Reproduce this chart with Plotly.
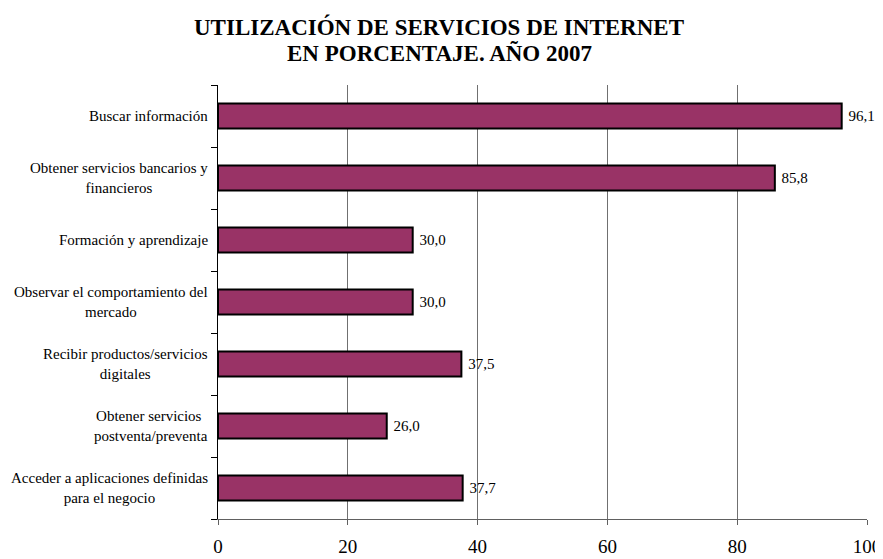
import plotly.graph_objects as go

categories = [
    "Buscar información",
    "Obtener servicios bancarios y<br>financieros",
    "Formación y aprendizaje",
    "Observar el comportamiento del<br>mercado",
    "Recibir productos/servicios<br>digitales",
    "Obtener servicios <br>postventa/preventa",
    "Acceder a aplicaciones definidas<br>para el negocio",
]
values = [96.1, 85.8, 30.0, 30.0, 37.5, 26.0, 37.7]
value_labels = [" " + f"{v:.1f}".replace(".", ",") for v in values]
x_ticks = [0, 20, 40, 60, 80, 100]
title_lines = ["UTILIZACIÓN DE SERVICIOS DE INTERNET", "EN PORCENTAJE. AÑO 2007"]

serif = "Liberation Serif, Times New Roman, serif"
ids = list(range(len(categories)))

# page has an 8px body margin, so the figure is 8px smaller than the window
W, H = 875, 551
ML, MR, MT, MB = 210, 16, 77, 40

fig = go.Figure()
fig.add_trace(go.Bar(
    x=values, y=ids, orientation="h",
    marker=dict(color="#993366", line=dict(color="black", width=2)),
    width=0.4,
    text=value_labels, textposition="outside",
    textfont=dict(family=serif, size=15, color="black"),
    cliponaxis=False,
))

for i, c in enumerate(categories):
    fig.add_annotation(
        x=-0.012, xref="paper", y=i, yref="y",
        text=c, showarrow=False, xanchor="right", yanchor="middle",
        align="center", font=dict(family=serif, size=15, color="black"),
    )

plot_h = H - MT - MB
fig.add_annotation(
    x=(431 - ML) / (W - ML - MR), xref="paper",
    y=(H - MB - 45) / plot_h, yref="paper",
    text=f"<b>{title_lines[1]}</b>", showarrow=False,
    xanchor="center", yanchor="middle",
    font=dict(family=serif, size=23, color="black"),
)

fig.update_layout(
    width=W, height=H,
    margin=dict(l=ML, r=MR, t=MT, b=MB, autoexpand=False),
    paper_bgcolor="white", plot_bgcolor="white",
    showlegend=False,
    title=dict(
        text=f"<b>{title_lines[0]}</b>",
        x=431 / W, xanchor="center", xref="container",
        y=1 - 19 / H, yanchor="middle", yref="container",
        font=dict(family=serif, size=23, color="black"),
    ),
)
fig.update_xaxes(
    range=[0, 100], tickvals=x_ticks, ticktext=[str(t) for t in x_ticks],
    showgrid=True, gridcolor="#707070", gridwidth=1,
    showline=True, linecolor="#606060", linewidth=1,
    ticks="outside", ticklen=5, tickcolor="#606060",
    tickfont=dict(family=serif, size=19, color="black"),
    ticklabelstandoff=5,
    zeroline=False,
)
fig.update_yaxes(
    type="linear", range=[6.5, -0.5],
    tickvals=[i - 0.5 for i in range(len(categories) + 1)],
    showticklabels=False,
    showgrid=False, showline=True, linecolor="black", linewidth=1,
    ticks="outside", ticklen=6, tickcolor="black",
    zeroline=False,
)

fig.write_html("out.html")
